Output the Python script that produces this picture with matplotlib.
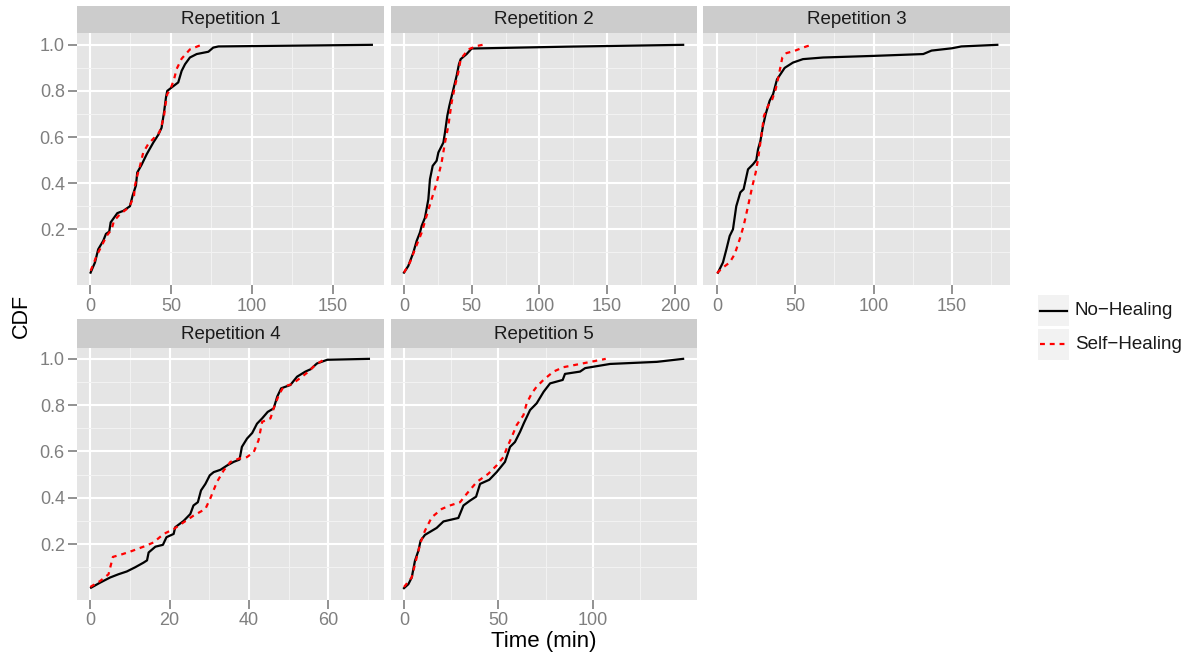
import matplotlib
matplotlib.use("Agg")
import matplotlib.pyplot as plt
from matplotlib.patches import Rectangle

plt.rcParams['font.family'] = ['Liberation Sans', 'DejaVu Sans']

# --- data: time (min) vs. CDF ---
rep1_no_t = [0.4, 3.1, 5.1, 8.2, 9.9, 11.9, 12.8, 16.9, 20.6, 24.7, 26.3, 28.4, 29.2, 31.9, 35, 39.1,
             42.2, 44.2, 45.7, 46.9, 47.7, 50.4, 54.5, 56.6, 58.7, 61.7, 65.9, 73.1, 76.1, 79.3, 174]
rep1_no_cdf = [0.012, 0.056, 0.113, 0.15, 0.18, 0.19, 0.23, 0.27, 0.28, 0.30, 0.345, 0.39, 0.446, 0.48,
               0.525, 0.576, 0.61, 0.64, 0.706, 0.77, 0.80, 0.815, 0.837, 0.887, 0.916, 0.945, 0.96,
               0.97, 0.988, 0.993, 1.0]
rep1_self_t = [0.4, 2.1, 4.1, 7.2, 10.3, 13.4, 14.8, 18.5, 22.6, 25.1, 27.2, 27.8, 29.2, 30.9, 32.9, 36,
               40.1, 42.8, 44.2, 45.7, 46.5, 47.7, 49.8, 51.9, 53.5, 56.6, 61.7, 68.8]
rep1_self_cdf = [0.02, 0.048, 0.085, 0.128, 0.171, 0.20, 0.236, 0.265, 0.287, 0.31, 0.345, 0.39, 0.432,
                 0.475, 0.533, 0.57, 0.60, 0.62, 0.65, 0.69, 0.735, 0.786, 0.81, 0.85, 0.895, 0.94,
                 0.98, 1.0]

rep2_no_t = [0, 3.2, 6.9, 9.4, 11.8, 13.1, 15.5, 18, 19.2, 21.2, 24.1, 25.4, 29.1, 30.3, 32, 33.5,
             36.5, 38.9, 40.6, 41.9, 46.3, 50, 120, 206.2]
rep2_no_cdf = [0.012, 0.041, 0.099, 0.15, 0.186, 0.215, 0.25, 0.33, 0.417, 0.475, 0.497, 0.533, 0.576,
               0.62, 0.692, 0.735, 0.808, 0.866, 0.916, 0.938, 0.96, 0.984, 0.992, 1.0]
rep2_self_t = [0, 4.4, 8.1, 13.1, 16.7, 20.4, 24.1, 27.8, 30.3, 32.8, 35.2, 37.7, 40.1, 41.9, 47.5,
               53.7, 58.1]
rep2_self_cdf = [0.012, 0.056, 0.113, 0.186, 0.258, 0.33, 0.40, 0.49, 0.576, 0.65, 0.75, 0.822, 0.88,
                 0.938, 0.98, 0.995, 1.0]

rep3_no_t = [0.6, 3.8, 6, 8.1, 10.2, 12.3, 14.9, 17, 19.8, 23, 25.1, 26.2, 27.7, 29.4, 31.1, 33.6,
             35.8, 38.3, 43.2, 48.5, 54.9, 67.7, 100, 131.7, 137, 150, 156, 179]
rep3_no_cdf = [0.012, 0.056, 0.113, 0.171, 0.20, 0.30, 0.36, 0.374, 0.46, 0.482, 0.50, 0.547, 0.583,
               0.649, 0.70, 0.757, 0.786, 0.85, 0.90, 0.923, 0.938, 0.945, 0.952, 0.96, 0.975, 0.985,
               0.993, 1.0]
rep3_self_t = [0, 3.8, 8.1, 11.3, 14.5, 17, 19.8, 22.6, 24.7, 26.2, 27.7, 28.9, 30, 32.6, 35.3, 37.5,
               38.9, 40.4, 41.7, 44.3, 49.6, 54.9, 60.2]
rep3_self_cdf = [0.01, 0.034, 0.056, 0.092, 0.157, 0.215, 0.30, 0.388, 0.446, 0.504, 0.576, 0.634,
                 0.692, 0.735, 0.764, 0.808, 0.85, 0.90, 0.945, 0.964, 0.974, 0.988, 1.0]

rep4_no_t = [0.2, 2.5, 5, 7.1, 9.2, 11.3, 13.4, 14.3, 14.7, 16.4, 18.3, 19.2, 21, 21.4, 23.5, 25.2,
             26, 27.1, 27.9, 29, 30.1, 31.1, 32.8, 34.5, 36.1, 37.6, 38.2, 39.5, 40.8, 42, 43.3, 44.7,
             46.2, 47.1, 48.1, 50.4, 52.1, 54.2, 55.5, 57.1, 59.7, 70.2]
rep4_no_cdf = [0.012, 0.034, 0.056, 0.07, 0.082, 0.10, 0.12, 0.13, 0.164, 0.189, 0.197, 0.23, 0.244,
               0.273, 0.30, 0.33, 0.367, 0.381, 0.432, 0.46, 0.497, 0.511, 0.521, 0.54, 0.555, 0.565,
               0.62, 0.656, 0.68, 0.72, 0.743, 0.771, 0.786, 0.837, 0.873, 0.887, 0.923, 0.945, 0.955,
               0.98, 0.996, 1.0]
rep4_self_t = [0, 2.5, 4.6, 5.7, 7.6, 10.1, 13.4, 15.9, 18.5, 21, 23.5, 26, 29, 30.3, 31.9, 33.6,
               35.3, 37.4, 39.5, 41.2, 42.4, 43.3, 45.4, 46.2, 47.5, 48.7, 50.8, 52.8, 55, 56.7, 59.2]
rep4_self_cdf = [0.015, 0.041, 0.07, 0.145, 0.154, 0.168, 0.189, 0.207, 0.244, 0.265, 0.294, 0.323,
                 0.352, 0.40, 0.468, 0.518, 0.555, 0.569, 0.576, 0.598, 0.649, 0.728, 0.743, 0.786,
                 0.844, 0.88, 0.891, 0.916, 0.945, 0.974, 1.0]

rep5_no_t = [0, 2.3, 4.1, 5.8, 7.6, 8.8, 11.1, 17.3, 20.9, 28.8, 31.5, 35, 38.2, 40.3, 45.2, 49.1,
             53.5, 56.2, 58.8, 61.5, 63.6, 66.8, 70.3, 74, 77.4, 84.1, 85.3, 93.3, 96, 109.2, 134, 147.9]
rep5_no_cdf = [0.01, 0.027, 0.056, 0.128, 0.171, 0.215, 0.24, 0.27, 0.298, 0.313, 0.367, 0.388, 0.405,
               0.46, 0.478, 0.511, 0.555, 0.62, 0.641, 0.685, 0.724, 0.779, 0.808, 0.858, 0.894, 0.909,
               0.935, 0.945, 0.96, 0.978, 0.987, 1.0]
rep5_self_t = [0, 4.1, 6.7, 8.8, 11.1, 14.7, 20, 24.4, 29.7, 33.2, 38.5, 44.7, 49.1, 52.7, 54.4, 57.1,
               59.7, 63.3, 65, 67.7, 70.3, 73.9, 79.2, 84.5, 93.3, 106.9]
rep5_self_cdf = [0.015, 0.056, 0.142, 0.207, 0.258, 0.316, 0.352, 0.367, 0.381, 0.417, 0.468, 0.504,
                 0.54, 0.576, 0.613, 0.663, 0.714, 0.757, 0.808, 0.851, 0.88, 0.909, 0.945, 0.964,
                 0.978, 1.0]

series_names = ["No\u2212Healing", "Self\u2212Healing"]
y_ticks = [0.2, 0.4, 0.6, 0.8, 1.0]
y_minor = [0.1, 0.3, 0.5, 0.7, 0.9]

reps = [
    (rep1_no_t, rep1_no_cdf, rep1_self_t, rep1_self_cdf),
    (rep2_no_t, rep2_no_cdf, rep2_self_t, rep2_self_cdf),
    (rep3_no_t, rep3_no_cdf, rep3_self_t, rep3_self_cdf),
    (rep4_no_t, rep4_no_cdf, rep4_self_t, rep4_self_cdf),
    (rep5_no_t, rep5_no_cdf, rep5_self_t, rep5_self_cdf),
]
x_ticks = [[0, 50, 100, 150], [0, 50, 100, 150, 200], [0, 50, 100, 150], [0, 20, 40, 60], [0, 50, 100]]
x_minor = [[25, 75, 125], [25, 75, 125, 175], [25, 75, 125, 175], [10, 30, 50, 70], [25, 75, 125]]

# --- layout (pixels) ---
W, H = 1192, 660
cols = [(77.3, 384), (390.7, 696.7), (703.3, 1010)]
rows = [(5.5, 33.3, 285), (319.5, 347.5, 599.5)]  # strip top, panel top, panel bottom
xlims = [(-7.8, 181.5), (-9.8, 216.2), (-8.75, 187.1), (-3.27, 74), (-7.05, 155.1)]
ylims = [(-0.0417, 1.05), (-0.039, 1.049)]

TICK_GREY = '#7f7f7f'
fig = plt.figure(figsize=(W / 100, H / 100), dpi=100)


def px_axes(x0, y0, x1, y1):
    return fig.add_axes([x0 / W, 1 - y1 / H, (x1 - x0) / W, (y1 - y0) / H])


for i, (no_t, no_c, sh_t, sh_c) in enumerate(reps):
    r, c = divmod(i, 3)
    x0, x1 = cols[c]
    s_top, p_top, p_bot = rows[r]

    # strip
    sax = px_axes(x0, s_top, x1, p_top)
    sax.set_facecolor('#cccccc')
    sax.set_xticks([])
    sax.set_yticks([])
    for sp in sax.spines.values():
        sp.set_visible(False)
    sax.text(0.5, 0.48, f"Repetition {i + 1}", ha='center', va='center',
             fontsize=13.5, color='#1a1a1a', transform=sax.transAxes)

    ax = px_axes(x0, p_top, x1, p_bot)
    ax.set_facecolor('#e5e5e5')
    for sp in ax.spines.values():
        sp.set_visible(False)
    ax.set_xlim(*xlims[i])
    ax.set_ylim(*ylims[r])
    ax.set_xticks(x_ticks[i])
    ax.set_xticks(x_minor[i], minor=True)
    ax.set_yticks(y_ticks)
    ax.set_yticks(y_minor, minor=True)
    ax.grid(which='minor', color='#f2f2f2', linewidth=0.8)
    ax.grid(which='major', color='white', linewidth=1.5)
    ax.set_axisbelow(True)
    ax.tick_params(which='minor', length=0)
    ax.tick_params(which='major', length=6.5, width=1.2, color=TICK_GREY,
                   labelcolor=TICK_GREY, labelsize=13, pad=2.5)
    if c == 0:
        ax.set_yticklabels([f"{v:.1f}" for v in y_ticks])
    else:
        ax.tick_params(axis='y', which='both', left=False, labelleft=False)

    ax.plot(no_t, no_c, color='black', linewidth=1.6, solid_joinstyle='round', label=series_names[0])
    ax.plot(sh_t, sh_c, color='#ff0000', linewidth=1.6, dashes=(2.2, 2.2), label=series_names[1])

# axis titles
fig.text(21 / W, 1 - 316 / H, "CDF", rotation=90, ha='center', va='center', fontsize=15.5)
fig.text(543.5 / W, 1 - 641 / H, "Time (min)", ha='center', va='center', fontsize=16)

# legend
lax = px_axes(1038, 295, 1069, 360)
lax.set_xlim(0, 1)
lax.set_ylim(0, 1)
lax.axis('off')
lax.add_patch(Rectangle((0, 0.525), 1, 0.475, facecolor='#f2f2f2', edgecolor='none'))
lax.add_patch(Rectangle((0, 0), 1, 0.475, facecolor='#f2f2f2', edgecolor='none'))
lax.plot([0.08, 0.92], [0.76, 0.76], color='black', linewidth=1.6)
lax.plot([0.08, 0.92], [0.24, 0.24], color='#ff0000', linewidth=1.6, dashes=(2.2, 2.2))
fig.text(1075 / W, 1 - 310.5 / H, series_names[0], ha='left', va='center', fontsize=13.5, color='#1a1a1a')
fig.text(1075 / W, 1 - 344.5 / H, series_names[1], ha='left', va='center', fontsize=13.5, color='#1a1a1a')

fig.savefig("out.png", dpi=100)
